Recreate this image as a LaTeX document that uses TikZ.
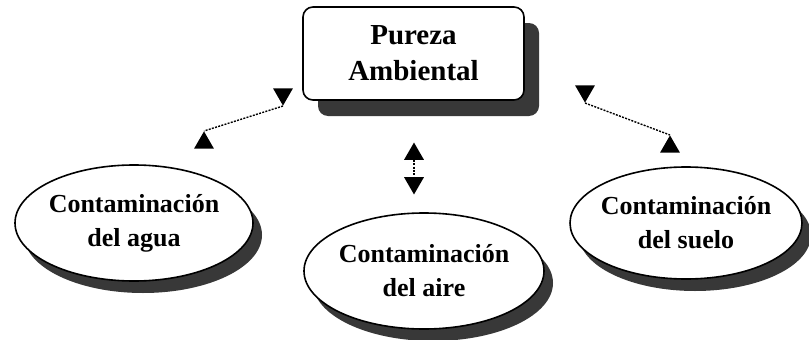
\documentclass[tikz,border=0pt]{standalone}
\usepackage{fontspec}
\setmainfont{Liberation Serif}
\usetikzlibrary{shapes.geometric,shadows}
\begin{document}
\begin{tikzpicture}[x=1pt,y=-1pt,
  topic/.style={draw, line width=1.6pt, rounded corners=10pt, fill=white,
    minimum width=221pt, minimum height=93pt, inner sep=0pt,
    drop shadow={shadow xshift=15pt, shadow yshift=-16pt, fill=black!78, opacity=1},
    font=\bfseries\fontsize{29}{36}\selectfont, align=center},
  sub/.style={ellipse, draw, line width=1.6pt, fill=white, inner xsep=-25pt, inner ysep=0pt,
    drop shadow={shadow xshift=9pt, shadow yshift=-12pt, fill=black!78, opacity=1},
    font=\bfseries\fontsize{26}{34}\selectfont, align=center},
  tri/.style={regular polygon, regular polygon sides=3, fill=black, minimum size=23pt, inner sep=0pt},
  link/.style={line width=1.4pt, dash pattern=on 2pt off 1.3pt}]
\useasboundingbox (0,0) rectangle (809,340);
\fill[white] (0,0) rectangle (809,340);
\node[topic] (pa) at (413.5,53.5) {Pureza\\Ambiental};
\node[sub, minimum width=238pt, minimum height=116pt] (agua) at (134,223) {Contaminación\\del agua};
\node[sub, minimum width=240pt, minimum height=116pt] (aire) at (424,271) {Contaminación\\del aire};
\node[sub, minimum width=232pt, minimum height=112pt] (suelo) at (686,223) {Contaminación\\del suelo};
% left connector
\coordinate (l1) at (283,106);
\coordinate (l2) at (204,131);
\draw[link] (l1) -- (l2);
\node[tri, shape border rotate=180, anchor=corner 1] (l1h) at (l1) {};
\node[tri, anchor=corner 1] (l2h) at (l2) {};
% right connector
\coordinate (r1) at (585,103);
\coordinate (r2) at (670,135);
\draw[link] (r1) -- (r2);
\node[tri, shape border rotate=180, anchor=corner 1] (r1h) at (r1) {};
\node[tri, anchor=corner 1] (r2h) at (r2) {};
% middle connector
\coordinate (m1) at (414,160);
\coordinate (m2) at (414,177);
\draw[link] (m1) -- (m2);
\node[tri, anchor=side 2] (m1h) at (m1) {};
\node[tri, shape border rotate=180, anchor=side 2] (m2h) at (m2) {};
\end{tikzpicture}
\end{document}
